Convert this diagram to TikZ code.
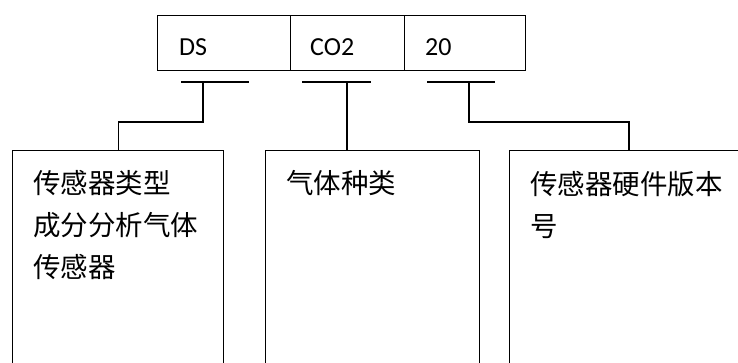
\documentclass[tikz,border=0pt]{standalone}
\usepackage{fontspec}
\setmainfont{Carlito}
\newfontfamily\cjk{Noto Sans CJK SC}
\begin{document}
\begin{tikzpicture}[x=1pt,y=-1pt,
  ln/.style={line width=1.3pt,black},
  cell/.style={draw,ln,anchor=north west,minimum height=55pt,inner sep=0pt},
  lbl/.style={anchor=base west,inner sep=0pt,font=\fontsize{26}{30}\selectfont},
  bigbox/.style={draw,ln,anchor=north west,minimum height=240pt,inner sep=0pt},
  cjktext/.style={anchor=north west,inner sep=0pt,align=left,font=\cjk\fontsize{27.5}{42}\selectfont}]
\useasboundingbox (0,0) rectangle (738,363);
\clip (0,0) rectangle (738,363);
% top record
\node[cell,minimum width=133pt] (c1) at (157,15) {};
\node[cell,minimum width=114pt] (c2) at (290,15) {};
\node[cell,minimum width=121pt] (c3) at (404,15) {};
\node[lbl] (t1) at (179,56) {DS};
\node[lbl] (t2) at (310,56) {CO2};
\node[lbl] (t3) at (425,56) {20};
% bars
\coordinate (b1l) at (181,82); \coordinate (b1r) at (249,82);
\coordinate (b2l) at (302,82); \coordinate (b2r) at (371,82);
\coordinate (b3l) at (427,82); \coordinate (b3r) at (495,82);
\coordinate (k1) at (203,82);
\coordinate (k2) at (347,82);
\coordinate (k3) at (469,82);
\draw[ln] (b1l) -- (b1r);
\draw[ln] (b2l) -- (b2r);
\draw[ln] (b3l) -- (b3r);
% lower boxes
\node[bigbox,minimum width=211pt] (B1) at (12,150) {};
\node[bigbox,minimum width=214pt] (B2) at (265,150) {};
\node[bigbox,minimum width=260pt] (B3) at (509,150) {};
\node[cjktext] (x1) at (33,170) {传感器类型\\成分分析气体\\传感器};
\node[cjktext] (x2) at (286,170) {气体种类};
\node[cjktext] (x3) at (530,171) {传感器硬件版本\\号};
% connectors
\draw[ln] (k1) -- (k1 |- 0,122) -| (B1.north);
\draw[ln] (k2) -- (k2 |- B2.north);
\draw[ln] (k3) -- (k3 |- 0,122) -| ([xshift=120pt]B3.north west);
\end{tikzpicture}
\end{document}
